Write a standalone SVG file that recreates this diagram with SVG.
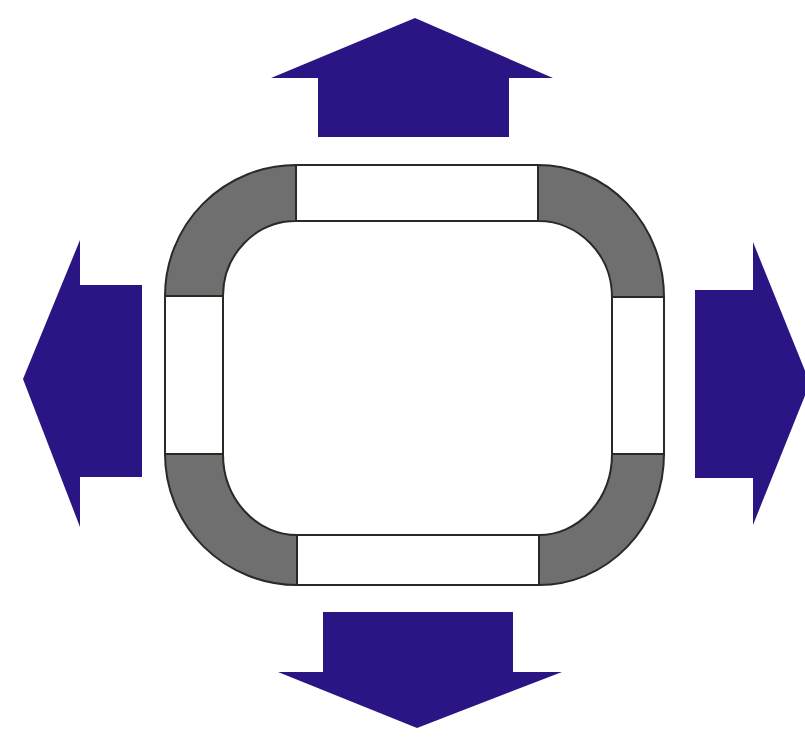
<svg xmlns="http://www.w3.org/2000/svg" width="805" height="737" viewBox="0 0 805 737">
<style>
.arrow{fill:#2b1584;stroke:none}
.gray{fill:#6f6f6f;stroke:#2a2a24;stroke-width:2;stroke-linejoin:round}
.white{fill:#ffffff;stroke:#2a2a24;stroke-width:2}
</style>
<rect width="805" height="737" fill="#ffffff"/>
<g id="frame">
<g id="side-top"><rect class="white" x="296" y="165" width="242" height="56"/></g>
<g id="side-right"><rect class="white" x="612" y="297" width="52" height="157"/></g>
<g id="side-bottom"><rect class="white" x="297" y="535" width="242" height="50"/></g>
<g id="side-left"><rect class="white" x="165" y="296" width="58" height="158"/></g>
<g id="corner-tl"><path class="gray" d="M165,296 A131,131 0 0 1 296,165 L296,221 A73,75 0 0 0 223,296 Z"/></g>
<g id="corner-tr"><path class="gray" d="M538,165 A126,132 0 0 1 664,297 L612,297 A74,76 0 0 0 538,221 Z"/></g>
<g id="corner-br"><path class="gray" d="M664,454 A125,131 0 0 1 539,585 L539,535 A73,81 0 0 0 612,454 Z"/></g>
<g id="corner-bl"><path class="gray" d="M297,585 A132,131 0 0 1 165,454 L223,454 A74,81 0 0 0 297,535 Z"/></g>
</g>
<g id="arrow-up"><polygon class="arrow" points="415,18 553,78 509,78 509,137 318,137 318,78 271,78"/></g>
<g id="arrow-left"><polygon class="arrow" points="23,379 80,240 80,285 142,285 142,477 80,477 80,527"/></g>
<g id="arrow-right"><polygon class="arrow" points="810,383 753,242 753,290 695,290 695,478 753,478 753,525"/></g>
<g id="arrow-down"><polygon class="arrow" points="417,728 562,672 513,672 513,612 323,612 323,672 278,672"/></g>
</svg>
